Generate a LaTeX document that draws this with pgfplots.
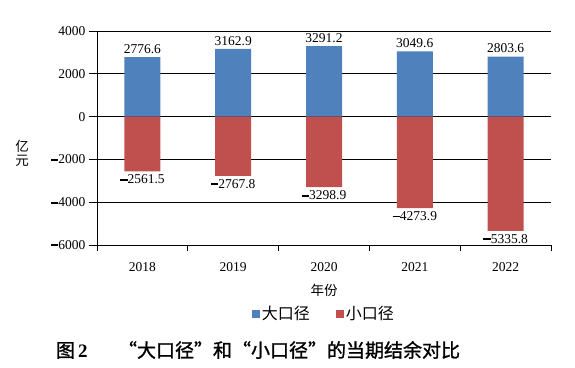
\documentclass[border=0pt]{standalone}
\usepackage{pgfplots}
\pgfplotsset{compat=1.18}
\usepackage{pgfplotstable}
\usepackage{fontspec}
\setmainfont{Liberation Serif}
\newfontfamily\cjk{Noto Sans CJK SC}
\newfontfamily\cjkb{Noto Sans CJK SC}[FakeBold=1.2]
\definecolor{bigc}{HTML}{4F81BD}
\definecolor{smallc}{HTML}{C0504D}
\pgfplotstableread{
x y
0 2776.6
1 3162.9
2 3291.2
3 3049.6
4 2803.6
}\bigt
\pgfplotstableread{
x y
0 -2561.5
1 -2767.8
2 -3298.9
3 -4273.9
4 -5335.8
}\smallt
\newcommand{\mn}{\textup{\rule[0.23em]{0.55em}{0.14em}}}
\begin{document}
\begin{tikzpicture}
\begin{axis}[
  at={(0pt,0pt)}, anchor=south west,
  scale only axis, width=454pt, height=214pt,
  clip=false,
  ybar, bar width=36pt, bar shift=0pt,
  xmin=-0.5, xmax=4.5, ymin=-6000, ymax=4000,
  axis x line*=bottom, axis y line*=left,
  axis line style={line width=0.7pt, black},
  xtick={0,1,2,3,4},
  xticklabels={2018,2019,2020,2021,2022},
  minor xtick={-0.5,0.5,1.5,2.5,3.5,4.5},
  ytick={-6000,-4000,-2000,0,2000,4000},
  yticklabels={{\mn6000},{\mn4000},{\mn2000},0,2000,4000},
  tick align=outside,
  x tick style={draw=none},
  minor x tick style={draw=black, line width=0.7pt},
  minor tick length=6pt,
  y tick style={black, line width=0.7pt},
  major tick length=8pt,
  ymajorgrids, grid style={black, line width=0.7pt},
  tick label style={font=\fontsize{13.5}{16}\selectfont},
  xticklabel style={yshift=-6pt},
  xlabel={\cjk 年份},
  xlabel style={font=\fontsize{13.5}{16}\selectfont, at={(axis description cs:0.5,-0.21)}, anchor=center},
  legend style={draw=none, at={(0.5,-0.322)}, anchor=center, legend columns=2,
    font=\fontsize{16}{19}\selectfont\cjk,
    /tikz/every even column/.append style={column sep=24pt}},
  legend image code/.code={\fill[#1] (0pt,-4pt) rectangle (8pt,4pt);},
  every node near coord/.append style={font=\fontsize{13.5}{16}\selectfont, black},
]
\addplot[fill=bigc, draw=none,
  nodes near coords={\pgfmathprintnumber[fixed,precision=1,zerofill,1000 sep={},assume math mode=true]{\pgfplotspointmeta}},
  nodes near coords align={above}] table[x=x,y=y]{\bigt};
\addlegendentry{大口径}
\addplot[fill=smallc, draw=none,
  point meta={-\thisrow{y}},
  nodes near coords={\mn\pgfmathprintnumber[fixed,precision=1,zerofill,1000 sep={},assume math mode=true]{\pgfplotspointmeta}},
  nodes near coords align={below}] table[x=x,y=y]{\smallt};
\addlegendentry{小口径}
\node[font=\fontsize{13.5}{14}\selectfont\cjk, align=center, anchor=center, inner sep=0pt] at (axis description cs:-0.165,0.43) {亿\\元};
\end{axis}
\node[font=\fontsize{19}{22}\selectfont, anchor=center] at (161pt,-105pt) {{\cjkb 图}\,\textbf{2}\hspace{1.6em}{\cjkb “大口径”和“小口径”的当期结余对比}};
\pgfresetboundingbox
\path[use as bounding box] (-97pt,-122pt) rectangle (478pt,245pt);
\end{tikzpicture}
\end{document}
